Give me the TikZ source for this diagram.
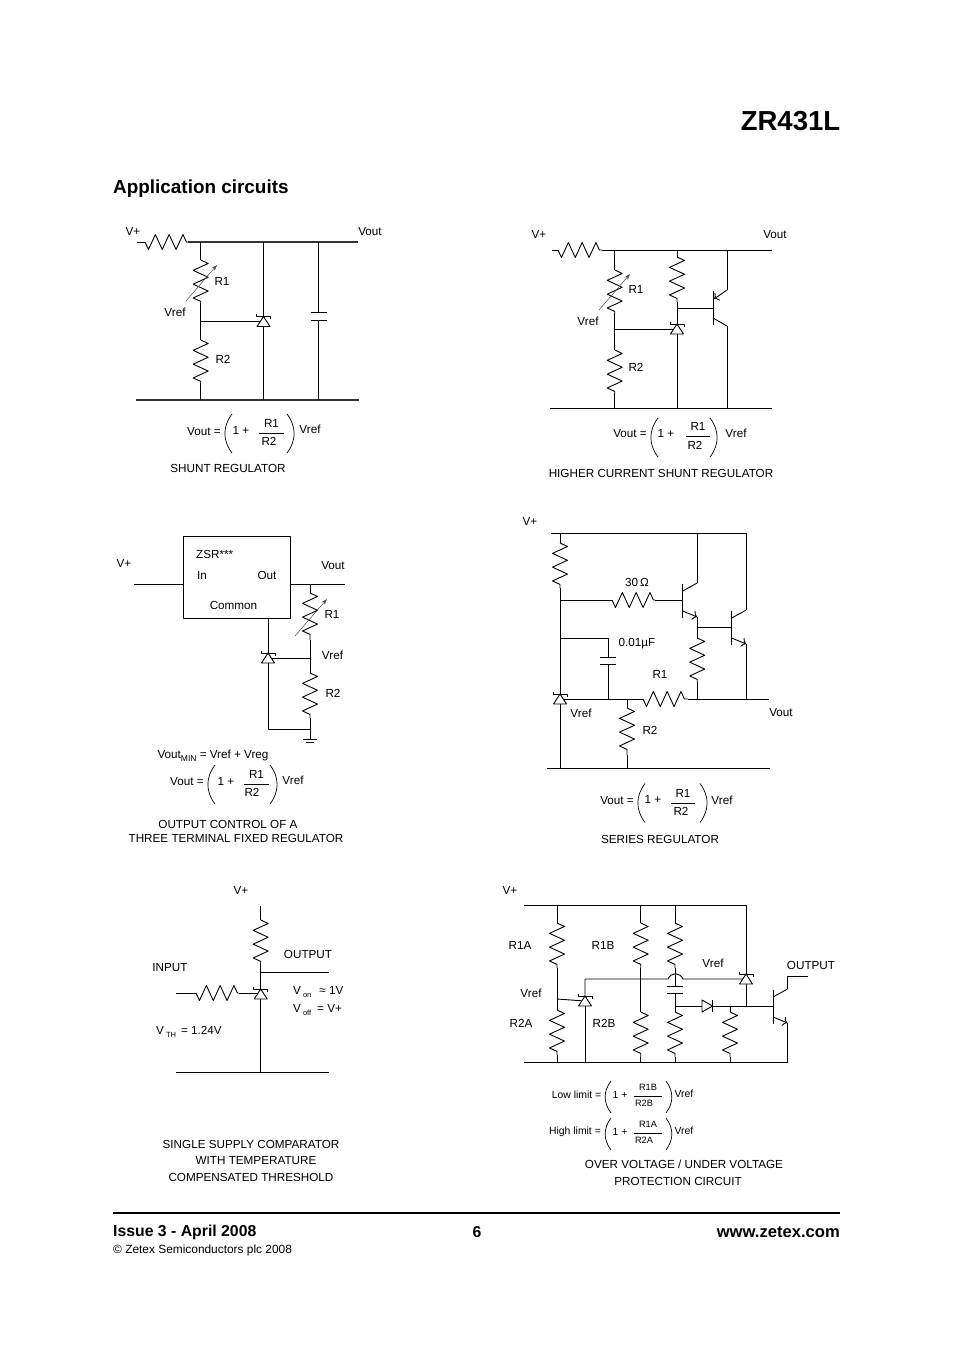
\documentclass[tikz,border=0pt]{standalone}
\usepackage{fontspec}
\setmainfont{Liberation Sans}
\usetikzlibrary{arrows.meta, decorations.pathmorphing}
\newcommand{\subtxt}[1]{\raisebox{-2.5pt}{\fontsize{7.5}{8}\selectfont #1}}
\tikzset{
  wire/.style={draw=black, line width=0.9pt, line join=round},
  bus/.style={draw=black!80, line width=1.7pt},
  res/.style={wire, decorate, decoration={zigzag, amplitude=7.5pt, segment length=13.8pt}},
  resh/.style={res, decoration={mirror}},
  trim/.style={-{Stealth[length=6pt, width=4pt]}, draw=black!70, line width=0.5pt},
  lab/.style={inner sep=0pt, yshift=-0.8pt, font=\fontsize{11.7}{13}\selectfont},
  small/.style={inner sep=0pt, yshift=-0.8pt, font=\fontsize{10.4}{11}\selectfont},
  ratio/.style={inner sep=0pt, yshift=-0.8pt, font=\fontsize{9.2}{11}\selectfont},
  upper/.style={lab, minimum width=24pt, minimum height=19.5pt},
  uppers/.style={ratio, minimum width=28pt, minimum height=16.5pt},
  lparen/.pic={\draw[wire, line width=0.7pt] (0,-19.5) .. controls (-9.5,-7) and (-9.5,7) .. (0,19.5);},
  rparen/.pic={\draw[wire, line width=0.7pt] (0,-19.5) .. controls (9.5,-7) and (9.5,7) .. (0,19.5);},
  shunt/.pic={
    \draw[wire, fill=white] (0,-5) -- (6.5,5) -- (-6.5,5) -- cycle;
    \draw[wire] (-7,-7.5) -- (-7,-5) -- (7,-5) -- (7,-2.5);
  },
  diode/.pic={
    \draw[wire, fill=white] (-5,-6) -- (5.5,0) -- (-5,6) -- cycle;
    \draw[wire] (5.5,-6) -- (5.5,6);
  },
  cap/.pic={
    \fill[white] (-7,-3.8) rectangle (7,3.8);
    \draw[wire] (-8,-3.8) -- (8,-3.8) (-8,3.8) -- (8,3.8);
  },
  npn/.pic={
    \draw[wire] (0,-16.5) -- (0,17.5);
    \draw[wire] (0,-9) -- (14.5,-17);
    \draw[wire, -{To[length=4.5pt]}] (0,11) -- (14.5,17);
    \coordinate (-c) at (14.5,-17);
    \coordinate (-e) at (14.5,17);
  },
  pnp/.pic={
    \draw[wire] (0,-17) -- (0,17);
    \draw[wire, {To[length=4.5pt]}-] (1,-9) -- (14,-18);
    \draw[wire] (0,10) -- (14,18);
    \coordinate (-e) at (14,-18);
    \coordinate (-c) at (14,18);
  },
}
\begin{document}
\begin{tikzpicture}[x=1pt, y=-1pt]
  \useasboundingbox (0,0) rectangle (954,1350);
  \node[font=\fontsize{27.5}{30}\selectfont\bfseries, inner sep=0pt] (title) at (790.5,121) {ZR431L};
  \node[font=\fontsize{18.9}{22}\selectfont\bfseries, inner sep=0pt, anchor=west] (head) at (113,189) {Application circuits};

  \coordinate (ain) at (137,242);
  \coordinate (ara) at (145,242);
  \coordinate (arb) at (188,242);
  \coordinate (at1) at (200.7,242);
  \coordinate (at2) at (263.5,242);
  \coordinate (at3) at (318.7,242);
  \coordinate (aout) at (358,242);
  \coordinate (ab0) at (136,400);
  \coordinate (ab1) at (200.7,400);
  \coordinate (ab2) at (263.5,400);
  \coordinate (ab3) at (318.7,400);
  \coordinate (ab4) at (359,400);
  \coordinate (ar1a) at (200.7,260);
  \coordinate (ar1b) at (200.7,303);
  \coordinate (aref) at (200.7,321.5);
  \coordinate (ashu) at (263.5,321.5);
  \coordinate (ar2a) at (200.7,340);
  \coordinate (ar2b) at (200.7,383);
  \coordinate (acap) at (318.7,316.5);
  \coordinate (atail) at (186,301);
  \coordinate (atip) at (217,265);
  \draw[wire] (ain) -- (ara);
  \draw[resh] (ara) -- (arb);
  \draw[bus] (arb) -- (aout);
  \draw[bus] (ab0) -- (ab4);
  \draw[wire] (at1) -- (ar1a) (ar1b) -- (ar2a) (ar2b) -- (ab1);
  \draw[res] (ar1a) -- (ar1b);
  \draw[res] (ar2a) -- (ar2b);
  \draw[wire] (aref) -- (ashu);
  \draw[wire] (at2) -- (ab2);
  \draw[wire] (at3) -- (ab3);
  \draw[trim] (atail) -- (atip);
  \pic at (ashu) {shunt};
  \pic at (acap) {cap};
  \node[lab] (avp) at (133,231) {V+};
  \node[lab] (avo) at (370,231) {Vout};
  \node[lab] (ar1) at (222,281) {R1};
  \node[lab] (avr) at (175,312) {Vref};
  \node[lab] (ar2) at (223,359) {R2};
  \node[lab] (aeq) at (204,431) {Vout =};
  \pic at (232,433.5) {lparen};
  \node[lab] (aone) at (241,430) {1 +};
  \node[upper] (afn) at (271.5,422.5) {R1\hspace{5pt}};
  \draw[wire, line width=0.6pt] (afn.south west) -- (afn.south east);
  \node[lab] (afd) at (269,441) {R2};
  \pic at (287,433.5) {rparen};
  \node[lab] (aer) at (310,429) {Vref};
  \node[lab] (acp) at (228,468) {SHUNT REGULATOR};

  \coordinate (bin) at (552,250);
  \coordinate (bra) at (558,250);
  \coordinate (brb) at (602,250);
  \coordinate (bt1) at (614.7,250);
  \coordinate (bt2) at (677,250);
  \coordinate (bt3) at (727,250);
  \coordinate (bout) at (772,250);
  \coordinate (bb0) at (550,408);
  \coordinate (bb1) at (614.7,408);
  \coordinate (bb2) at (677,408);
  \coordinate (bb3) at (727,408);
  \coordinate (bb4) at (772,408);
  \coordinate (br1a) at (614.7,270);
  \coordinate (br1b) at (614.7,313);
  \coordinate (bref) at (614.7,329);
  \coordinate (bshu) at (677,329);
  \coordinate (br2a) at (614.7,350);
  \coordinate (br2b) at (614.7,393);
  \coordinate (br3a) at (677,257);
  \coordinate (br3b) at (677,302);
  \coordinate (bnod) at (677,308);
  \coordinate (bbas) at (713,308);
  \coordinate (btail) at (599,310);
  \coordinate (btip) at (630,274);
  \draw[wire] (bin) -- (bra);
  \draw[resh] (bra) -- (brb);
  \draw[wire] (brb) -- (bout);
  \draw[wire] (bb0) -- (bb4);
  \draw[wire] (bt1) -- (br1a) (br1b) -- (br2a) (br2b) -- (bb1);
  \draw[res] (br1a) -- (br1b);
  \draw[res] (br2a) -- (br2b);
  \draw[wire] (bt2) -- (br3a) (br3b) -- (bb2);
  \draw[res] (br3a) -- (br3b);
  \draw[wire] (bref) -- (bshu);
  \draw[wire] (bnod) -- (bbas);
  \pic (bq) at (bbas) {pnp};
  \draw[wire] (bq-e) -- (bt3);
  \draw[wire] (bq-c) -- (bb3);
  \draw[trim] (btail) -- (btip);
  \pic at (bshu) {shunt};
  \node[lab] (bvp) at (539,234) {V+};
  \node[lab] (bvo) at (775,234) {Vout};
  \node[lab] (br1) at (636,289) {R1};
  \node[lab] (bvr) at (588,321) {Vref};
  \node[lab] (br2) at (636,367) {R2};
  \node[lab] (beq) at (630,433) {Vout =};
  \pic at (658,437.5) {lparen};
  \node[lab] (bone) at (666,433) {1 +};
  \node[upper] (bfn) at (698,425.5) {R1\hspace{6pt}};
  \draw[wire, line width=0.6pt] (bfn.south west) -- (bfn.south east);
  \node[lab] (bfd) at (695,445) {R2};
  \pic at (710,437.5) {rparen};
  \node[lab] (ber) at (736,433) {Vref};
  \node[lab] (bcp) at (661,473) {HIGHER CURRENT SHUNT REGULATOR};

  \node[wire, draw, minimum width=107pt, minimum height=81.5pt, inner sep=0pt] (zsr) at (236.5,577.5) {};
  \coordinate (cin) at (134,584.3);
  \coordinate (cbin) at (zsr.west |- cin);
  \coordinate (cbout) at (zsr.east |- cin);
  \coordinate (cout) at (345,584.3);
  \coordinate (cn1) at (310,584.3);
  \coordinate (cr1a) at (310,593);
  \coordinate (cr1b) at (310,640);
  \coordinate (cref) at (310,658);
  \coordinate (cr2a) at (310,673);
  \coordinate (cr2b) at (310,718);
  \coordinate (cbot) at (310,729);
  \coordinate (cgnd) at (310,739);
  \coordinate (cs0) at (268,618);
  \coordinate (cshu) at (268,658);
  \coordinate (cs1) at (268,729);
  \coordinate (ctail) at (295,636);
  \coordinate (ctip) at (327,599);
  \coordinate (cg1l) at (303,739);
  \coordinate (cg1r) at (317,739);
  \coordinate (cg2l) at (306,742);
  \coordinate (cg2r) at (314,742);
  \draw[wire] (cin) -- (cbin);
  \draw[wire] (cbout) -- (cout);
  \draw[wire] (cn1) -- (cr1a) (cr1b) -- (cr2a) (cr2b) -- (cgnd);
  \draw[res] (cr1a) -- (cr1b);
  \draw[res] (cr2a) -- (cr2b);
  \draw[wire] (cs0) -- (cs1) -- (cbot);
  \draw[wire] (cshu) -- (cref);
  \draw[wire] (cg1l) -- (cg1r);
  \draw[wire] (cg2l) -- (cg2r);
  \draw[trim] (ctail) -- (ctip);
  \pic at (cshu) {shunt};
  \node[lab] (cvp) at (124,563) {V+};
  \node[lab, anchor=west] (czsr) at (196,554) {ZSR***};
  \node[lab] (cinl) at (202,575) {In};
  \node[lab] (coutl) at (267,574.5) {Out};
  \node[lab] (ccom) at (233.5,605) {Common};
  \node[lab] (cvo) at (333,565) {Vout};
  \node[lab] (cr1) at (332,614) {R1};
  \node[lab] (cvr) at (332.5,655) {Vref};
  \node[lab] (cr2) at (333,693) {R2};
  \node[lab] (ceq0) at (213,755) {Vout\raisebox{-3pt}{\fontsize{8.5}{8}\selectfont MIN} = Vref + Vreg};
  \node[lab] (ceq) at (187,781) {Vout =};
  \pic at (215,784.5) {lparen};
  \node[lab] (cone) at (226,781) {1 +};
  \node[upper] (cfn) at (256.5,773.5) {R1\hspace{9pt}};
  \draw[wire, line width=0.6pt] (cfn.south west) -- (cfn.south east);
  \node[lab] (cfd) at (252,792) {R2};
  \pic at (270,784.5) {rparen};
  \node[lab] (cer) at (293,780) {Vref};
  \node[lab] (ccp1) at (228,824) {OUTPUT CONTROL OF A};
  \node[lab] (ccp2) at (236,838) {THREE TERMINAL FIXED REGULATOR};

  \coordinate (dt0) at (551,533);
  \coordinate (dt1) at (560,533);
  \coordinate (dt2) at (697.2,533);
  \coordinate (dt3) at (746.2,533);
  \coordinate (dr0a) at (560,543);
  \coordinate (dr0b) at (560,588);
  \coordinate (dn1) at (560,600);
  \coordinate (dra) at (612,600);
  \coordinate (drb) at (655,600);
  \coordinate (db1) at (682.7,600);
  \coordinate (dn2) at (560,638);
  \coordinate (dc1) at (608,638);
  \coordinate (dcap) at (608,661);
  \coordinate (dc2) at (608,699);
  \coordinate (dshu) at (560,699);
  \coordinate (dgnd) at (560,768);
  \coordinate (dn3) at (627,699);
  \coordinate (dr1a) at (643,699);
  \coordinate (dr1b) at (688,699);
  \coordinate (dn4) at (697.2,699);
  \coordinate (dn5) at (746.2,699);
  \coordinate (dout) at (769,699);
  \coordinate (dr2a) at (627,708);
  \coordinate (dr2b) at (627,755);
  \coordinate (dg2) at (627,768);
  \coordinate (db0) at (547,768);
  \coordinate (db4) at (770,768);
  \coordinate (dn6) at (697.2,627);
  \coordinate (db2) at (731.7,627);
  \coordinate (dr3a) at (697.2,638);
  \coordinate (dr3b) at (697.2,682);
  \draw[wire] (dt0) -- (dt3);
  \draw[wire] (dt1) -- (dr0a) (dr0b) -- (dgnd);
  \draw[res] (dr0a) -- (dr0b);
  \draw[wire] (dn1) -- (dra);
  \draw[resh] (dra) -- (drb);
  \draw[wire] (drb) -- (db1);
  \pic (dqa) at (db1) {npn};
  \draw[wire] (dqa-c) -- (dt2);
  \draw[wire] (dqa-e) -- (dr3a) (dr3b) -- (dn4);
  \draw[res] (dr3a) -- (dr3b);
  \draw[wire] (dn6) -- (db2);
  \pic (dqb) at (db2) {npn};
  \draw[wire] (dqb-c) -- (dt3);
  \draw[wire] (dqb-e) -- (dn5);
  \draw[wire] (dn2) -- (dc1) -- (dc2);
  \draw[wire] (dshu) -- (dr1a);
  \draw[resh] (dr1a) -- (dr1b);
  \draw[wire] (dr1b) -- (dout);
  \draw[wire] (dn3) -- (dr2a) (dr2b) -- (dg2);
  \draw[res] (dr2a) -- (dr2b);
  \draw[wire] (db0) -- (db4);
  \pic at (dcap) {cap};
  \pic at (dshu) {shunt};
  \node[lab] (dvp) at (530,521) {V+};
  \node[lab] (dohm) at (637,582) {30\,Ω};
  \node[lab] (duf) at (637,643) {0.01µF};
  \node[lab] (dr1) at (660,674) {R1};
  \node[lab] (dvr) at (581,713) {Vref};
  \node[lab] (dr2) at (650,730) {R2};
  \node[lab] (dvo) at (781,712) {Vout};
  \node[lab] (deq) at (617,800) {Vout =};
  \pic at (645,803) {lparen};
  \node[lab] (done) at (653,799) {1 +};
  \node[upper] (dfn) at (683,792.5) {R1\hspace{4pt}};
  \draw[wire, line width=0.6pt] (dfn.south west) -- (dfn.south east);
  \node[lab] (dfd) at (681,811) {R2};
  \pic at (700,803) {rparen};
  \node[lab] (der) at (722,800) {Vref};
  \node[lab] (dcp) at (660,839) {SERIES REGULATOR};

  \coordinate (et) at (260.7,906);
  \coordinate (era) at (260.7,920);
  \coordinate (erb) at (260.7,963);
  \coordinate (eo) at (260.7,972);
  \coordinate (eout) at (329,972);
  \coordinate (eshu) at (260.7,994);
  \coordinate (eb) at (260.7,1072);
  \coordinate (eb0) at (176,1072);
  \coordinate (eb1) at (329,1072);
  \coordinate (ein) at (176,993);
  \coordinate (eia) at (196,993);
  \coordinate (eib) at (238.5,993);
  \coordinate (eg) at (260.7,993);
  \draw[wire] (et) -- (era) (erb) -- (eb);
  \draw[res] (era) -- (erb);
  \draw[wire] (eo) -- (eout);
  \draw[wire] (eb0) -- (eb1);
  \draw[wire] (ein) -- (eia);
  \draw[resh] (eia) -- (eib);
  \draw[wire] (eib) -- (eg);
  \pic at (eshu) {shunt};
  \node[lab] (evp) at (241,890) {V+};
  \node[lab] (eot) at (308,954) {OUTPUT};
  \node[lab] (eit) at (170,967) {INPUT};
  \node[lab, anchor=west] (evon) at (293,991) {V\hspace{2pt}\subtxt{on}\hspace{8pt}≈ 1V};
  \node[lab, anchor=west] (evof) at (293,1009) {V\hspace{2pt}\subtxt{off}\hspace{6pt}= V+};
  \node[lab, anchor=west] (evth) at (156,1031) {V\hspace{2pt}\subtxt{TH}\hspace{5pt}= 1.24V};
  \node[lab] (ecp1) at (251,1144) {SINGLE SUPPLY COMPARATOR};
  \node[lab] (ecp2) at (256,1160) {WITH TEMPERATURE};
  \node[lab] (ecp3) at (251,1177) {COMPENSATED THRESHOLD};

  \coordinate (ft0) at (524,905);
  \coordinate (ft1) at (557,905);
  \coordinate (ft2) at (640.7,905);
  \coordinate (ft3) at (675,905);
  \coordinate (ft4) at (746,905);
  \coordinate (fb0) at (524,1062);
  \coordinate (fb1) at (557,1062);
  \coordinate (fb2) at (585,1062);
  \coordinate (fb3) at (640.7,1062);
  \coordinate (fb4) at (675,1062);
  \coordinate (fb5) at (730,1062);
  \coordinate (fb6) at (787.5,1062);
  \coordinate (fa1a) at (557,923);
  \coordinate (fa1b) at (557,968);
  \coordinate (fref) at (557,999);
  \coordinate (fa2a) at (557,1010);
  \coordinate (fa2b) at (557,1055);
  \coordinate (fsa) at (585,1001);
  \coordinate (fsat) at (585,979);
  \coordinate (fb1a) at (640.7,923);
  \coordinate (fb1b) at (640.7,968);
  \coordinate (fb2a) at (640.7,1012);
  \coordinate (fb2b) at (640.7,1057);
  \coordinate (fc1a) at (675,923);
  \coordinate (fc1b) at (675,968);
  \coordinate (fcap) at (675,990);
  \coordinate (fnod) at (675,1006);
  \coordinate (fc2a) at (675,1012);
  \coordinate (fc2b) at (675,1057);
  \coordinate (fja) at (668,979);
  \coordinate (fjb) at (683,979);
  \coordinate (fsc) at (746,979);
  \coordinate (fdio) at (707,1006);
  \coordinate (fnb) at (730,1006);
  \coordinate (fnc) at (746,1006);
  \coordinate (fd2a) at (730,1012);
  \coordinate (fd2b) at (730,1057);
  \coordinate (fbas) at (773,1006);
  \coordinate (fcol) at (787.5,976);
  \coordinate (foutw) at (808,976);
  \draw[wire] (ft0) -- (ft4) -- (fsc);
  \draw[wire] (fb0) -- (fb6);
  \draw[wire] (ft1) -- (fa1a) (fa1b) -- (fa2a) (fa2b) -- (fb1);
  \draw[res] (fa1a) -- (fa1b);
  \draw[res] (fa2a) -- (fa2b);
  \draw[wire] (ft2) -- (fb1a) (fb1b) -- (fb2a) (fb2b) -- (fb3);
  \draw[res] (fb1a) -- (fb1b);
  \draw[res] (fb2a) -- (fb2b);
  \draw[wire] (ft3) -- (fc1a) (fc1b) -- (fc2a) (fc2b) -- (fb4);
  \draw[res] (fc1a) -- (fc1b);
  \draw[res] (fc2a) -- (fc2b);
  \draw[wire] (fref) -- (fsa);
  \draw[wire] (fsa) -- (fsat) -- (fja) .. controls (671,972) and (680,972) .. (fjb) -- (fsc);
  \draw[wire] (fsa) -- (fb2);
  \draw[wire] (fnod) -- (fbas);
  \draw[wire] (fnb) -- (fd2a) (fd2b) -- (fb5);
  \draw[res] (fd2a) -- (fd2b);
  \draw[wire] (fnc) -- (fsc);
  \pic (fq) at (fbas) {npn};
  \draw[wire] (fq-c) -- (fcol) -- (foutw);
  \draw[wire] (fq-e) -- (fb6);
  \pic at (fdio) {diode};
  \pic at (fcap) {cap};
  \pic at (fsa) {shunt};
  \pic at (fsc) {shunt};
  \node[lab] (fvp) at (510,890) {V+};
  \node[lab] (fa1) at (520,945) {R1A};
  \node[lab] (fb1t) at (603,945) {R1B};
  \node[lab] (fvr1) at (713,963) {Vref};
  \node[lab] (fvr2) at (531,993) {Vref};
  \node[lab] (fa2) at (521,1023) {R2A};
  \node[lab] (fb2t) at (604,1023) {R2B};
  \node[lab] (fot) at (811,965) {OUTPUT};
  \node[small] (feq) at (576.5,1094) {Low limit =};
  \pic[scale=0.82] at (611,1097) {lparen};
  \node[small] (fone) at (620,1094) {1 +};
  \node[uppers] (ffn) at (648,1087) {R1B\hspace{8pt}};
  \draw[wire, line width=0.6pt] (ffn.south west) -- (ffn.south east);
  \node[ratio] (ffd) at (644,1102) {R2B};
  \pic[scale=0.82] at (666,1097) {rparen};
  \node[small] (fer) at (684,1093) {Vref};
  \node[small] (fheq) at (575,1131) {High limit =};
  \pic[scale=0.82] at (611,1134) {lparen};
  \node[small] (fhone) at (620,1131) {1 +};
  \node[uppers] (fhfn) at (648,1124) {R1A\hspace{8pt}};
  \draw[wire, line width=0.6pt] (fhfn.south west) -- (fhfn.south east);
  \node[ratio] (fhfd) at (644,1139) {R2A};
  \pic[scale=0.82] at (666,1134) {rparen};
  \node[small] (fher) at (684,1130) {Vref};
  \node[lab] (fcp1) at (684,1164) {OVER VOLTAGE / UNDER VOLTAGE};
  \node[lab] (fcp2) at (678,1181) {PROTECTION CIRCUIT};

  \coordinate (rulel) at (113,1213);
  \coordinate (ruler) at (840,1213);
  \draw[line width=1.5pt] (rulel) -- (ruler);
  \node[font=\fontsize{15.8}{17}\selectfont\bfseries, inner sep=0pt, anchor=west] (issue) at (113,1232.5) {Issue 3 - April 2008};
  \node[font=\fontsize{15.8}{17}\selectfont\bfseries, inner sep=0pt] (page) at (477,1232) {6};
  \node[font=\fontsize{16.6}{17}\selectfont\bfseries, inner sep=0pt, anchor=east] (web) at (840,1232) {www.zetex.com};
  \node[font=\fontsize{11.9}{13}\selectfont, inner sep=0pt, anchor=west] (copy) at (113,1250) {© Zetex Semiconductors plc 2008};
\end{tikzpicture}
\end{document}
